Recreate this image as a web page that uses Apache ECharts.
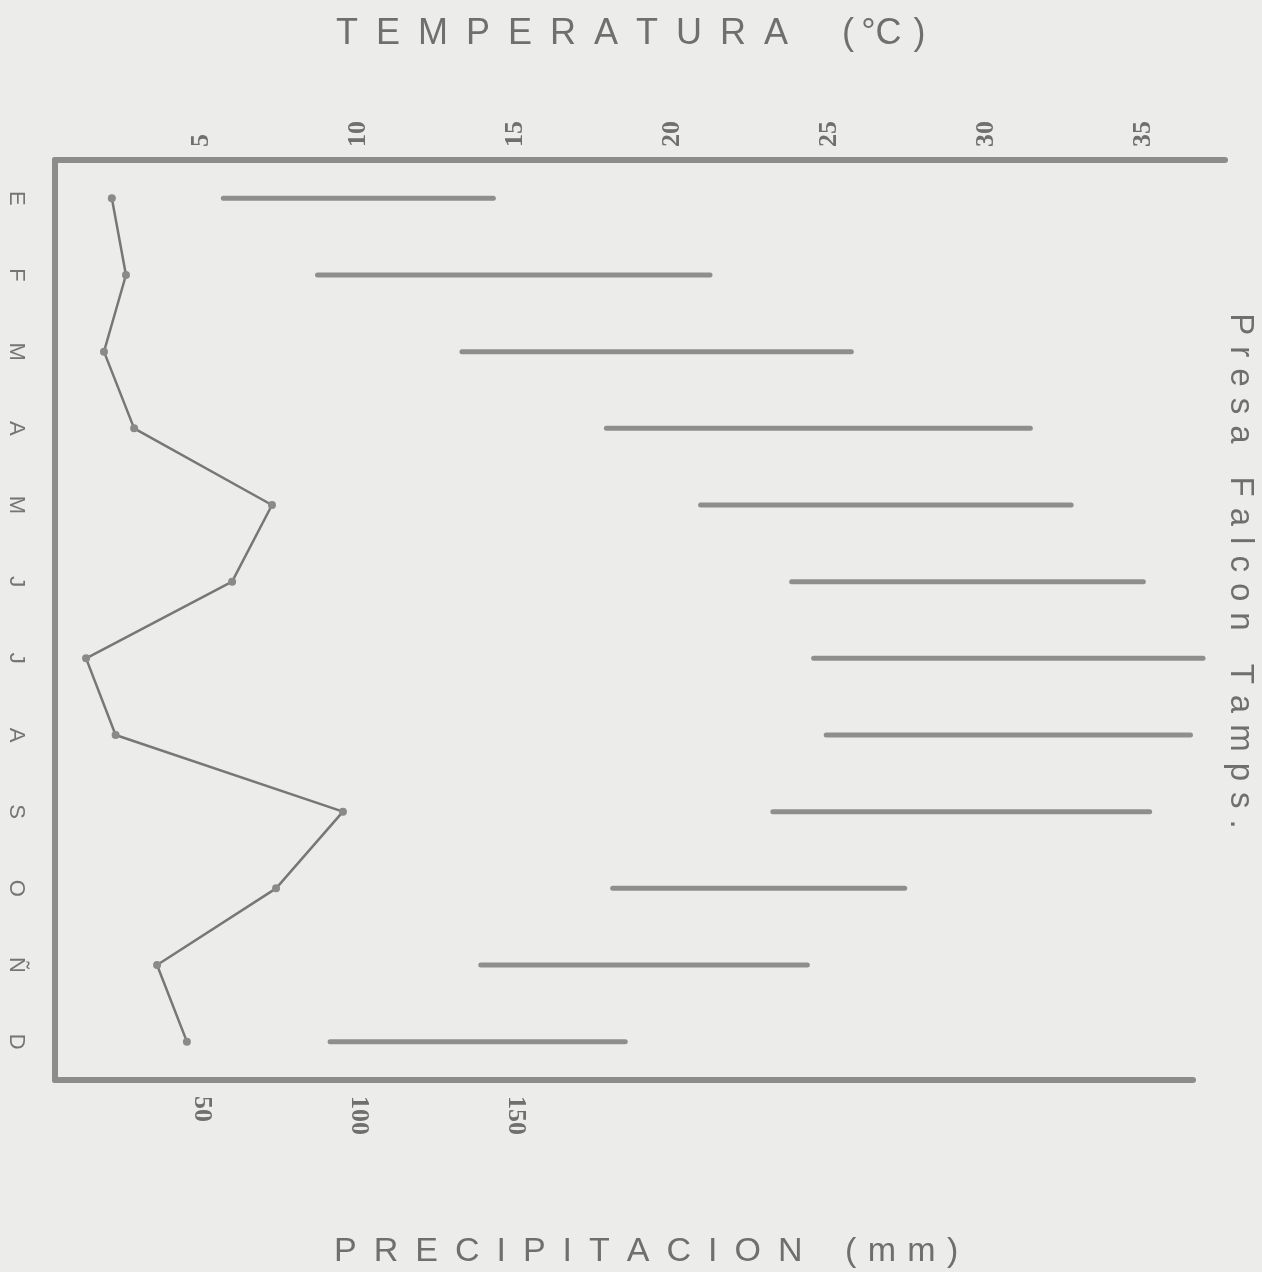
<!DOCTYPE html>
<html>
<head>
<meta charset="utf-8">
<title>Presa Falcon Tamps.</title>
<script src="https://cdn.jsdelivr.net/npm/echarts@6/dist/echarts.min.js"></script>
<style>
  html, body { margin: 0; padding: 0; background: #ececea; }
  #chart { width: 1262px; height: 1272px; }
</style>
</head>
<body>
<div id="chart"></div>
<script>
// meses (E..D), temperatura min/max en °C, precipitacion en mm
var months = ['E', 'F', 'M', 'A', 'M', 'J', 'J', 'A', 'S', 'O', 'Ñ', 'D'];
var tempMin = [5.7, 8.7, 13.3, 17.9, 20.9, 23.8, 24.5, 24.9, 23.2, 18.1, 13.9, 9.1];
var tempMax = [14.3, 21.2, 25.7, 31.4, 32.7, 35.0, 36.9, 36.5, 35.2, 27.4, 24.3, 18.5];
var precip = [21.5, 26.0, 19.0, 28.6, 72.5, 59.8, 13.3, 22.7, 95.1, 73.8, 35.9, 45.4];
var tempTicks = [5, 10, 15, 20, 25, 30, 35];
var precipTicks = [50, 100, 150];

var gray = '#8c8c8c';
var ink = '#6f6f6f';

function spaced(s, gap) {
    return s.split('').join(gap);
}

$chart = echarts.init(document.getElementById('chart'));

var option = {
    backgroundColor: '#ececea',
    animation: false,
    title: [
        {
            text: spaced('TEMPERATURA', '\u2002') + '\u2003\u2002(\u2009°C\u2004)',
            left: 331,
            top: 11,
            textStyle: { fontFamily: 'Liberation Sans', fontSize: 36, fontWeight: 'normal', color: ink }
        },
        {
            text: spaced('PRECIPITACION', '\u2002') + '\u2003\u2005(\u2004m\u2004m\u2004)',
            left: 329,
            top: 1230,
            textStyle: { fontFamily: 'Liberation Sans', fontSize: 34, fontWeight: 'normal', color: ink }
        }
    ],
    grid: [
        { left: 55, right: 37, top: 160, bottom: 192 },
        { left: 55, right: 69, top: 160, bottom: 192 }
    ],
    xAxis: [
        {
            gridIndex: 0,
            type: 'value',
            position: 'top',
            min: 0.34,
            max: 37.6,
            splitLine: { show: false },
            axisTick: { show: false },
            axisLine: { show: true, lineStyle: { color: gray, width: 6, cap: 'round' } },
            axisLabel: {
                customValues: tempTicks,
                rotate: -90,
                margin: 13,
                fontFamily: 'Liberation Serif',
                fontWeight: 'bold',
                fontSize: 26,
                color: ink
            }
        },
        {
            gridIndex: 1,
            type: 'value',
            position: 'bottom',
            min: 3.4,
            max: 365.8,
            splitLine: { show: false },
            axisTick: { show: false },
            axisLine: { show: true, lineStyle: { color: gray, width: 6, cap: 'round' } },
            axisLabel: {
                customValues: precipTicks,
                rotate: -90,
                margin: 16,
                fontFamily: 'Liberation Serif',
                fontWeight: 'bold',
                fontSize: 26,
                color: ink
            }
        }
    ],
    yAxis: [
        {
            gridIndex: 0,
            type: 'category',
            inverse: true,
            data: months,
            axisTick: { show: false },
            axisLine: { show: true, lineStyle: { color: gray, width: 6, cap: 'round' } },
            axisLabel: {
                rotate: -90,
                margin: 28,
                fontFamily: 'Liberation Sans',
                fontSize: 22,
                color: '#757575'
            }
        },
        {
            gridIndex: 1,
            type: 'category',
            inverse: true,
            data: months,
            show: false
        }
    ],
    graphic: [
        {
            type: 'text',
            x: 1240,
            y: 571,
            rotation: -Math.PI / 2,
            style: {
                text: spaced('Presa', '\u2004') + '\u2002\u2002' + spaced('Falcon', '\u2004') + '\u2002\u2002' + spaced('Tamps.', '\u2004'),
                align: 'center',
                verticalAlign: 'middle',
                font: '33px "Liberation Sans"',
                fill: ink
            }
        }
    ],
    series: [
        {
            name: 'Temperatura',
            type: 'custom',
            xAxisIndex: 0,
            yAxisIndex: 0,
            encode: { x: [1, 2], y: 0 },
            data: months.map(function (m, i) { return [i, tempMin[i], tempMax[i]]; }),
            renderItem: function (params, api) {
                var y = api.value(0);
                var a = api.coord([api.value(1), y]);
                var b = api.coord([api.value(2), y]);
                return {
                    type: 'line',
                    shape: { x1: a[0], y1: a[1], x2: b[0], y2: b[1] },
                    style: { stroke: '#8e8e8e', lineWidth: 5, lineCap: 'round' }
                };
            }
        },
        {
            name: 'Precipitacion',
            type: 'line',
            xAxisIndex: 1,
            yAxisIndex: 1,
            data: precip,
            symbol: 'circle',
            symbolSize: 8,
            itemStyle: { color: '#8a8a8a' },
            lineStyle: { color: '#777777', width: 2.5 }
        }
    ]
};

$chart.setOption(option);
</script>
</body>
</html>
